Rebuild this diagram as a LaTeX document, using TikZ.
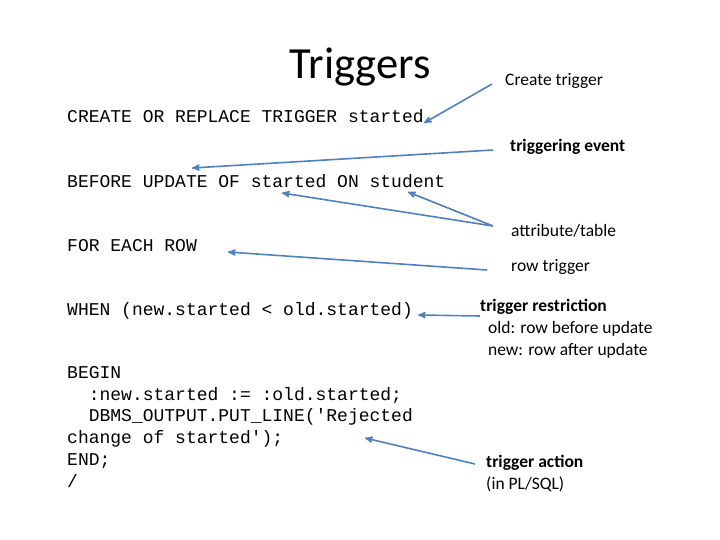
\documentclass[tikz,border=0pt]{standalone}
\usepackage{fontspec}
\setmainfont{Carlito}
\setmonofont{Liberation Mono}
\usetikzlibrary{arrows,positioning}
\definecolor{arrowblue}{RGB}{79,129,189}
\tikzset{
>=stealth', % arrow heads
every node/.style={inner sep=0pt},
code/.style={anchor=west,font=\ttfamily\fontsize{18}{21.8}\selectfont,align=left},
note/.style={anchor=west,font=\fontsize{17.5}{22}\selectfont,align=left},
pointer/.style={->,draw=arrowblue,line width=1.6pt},
}
\begin{document}
\begin{tikzpicture}[x=1pt,y=-1pt]
  \useasboundingbox (0,0) rectangle (720,540);
  \node[font=\fontsize{44.5}{46}\selectfont] (title) at (360,67) {Triggers};

  % the code
  \node[code] (create) at (67,116) {CREATE OR REPLACE TRIGGER started};
  \node[code] (event) at (67,181) {BEFORE UPDATE OF started ON student};
  \node[code] (row) at (67,246) {FOR EACH ROW};
  \node[code] (when) at (67,311) {WHEN (new.started < old.started)};
  \node[code,anchor=north west] (body) at (67,366) {BEGIN\\
  \ \ :new.started := :old.started;\\
  \ \ DBMS\_OUTPUT.PUT\_LINE('Rejected\\
  change of started');\\
  END;\\
  /};

  % the notes
  \node[note] (ncreate) at (505,81) {Create trigger};
  \node[note] (nevent) at (510,147) {\textbf{triggering event}};
  \node[note] (nattr) at (511,231) {attribute/table};
  \node[note] (nrow) at (511,267) {row trigger};
  \node[note,anchor=north west] (nrestr) at (480,299) {\textbf{trigger restriction}\\
  \ \ old: row before update\\
  \ \ new: row after update};
  \node[note,anchor=north west] (naction) at (486,455) {\textbf{trigger action}\\(in PL/SQL)};

  % arrow ends
  \coordinate (a1) at (424,123);
  \coordinate (a2) at (192,168);
  \coordinate (a3) at (282,193);
  \coordinate (a4) at (408,192);
  \coordinate (a5) at (228,252);
  \coordinate (a6) at (418,315);
  \coordinate (a7) at (365,438);

  \draw[pointer] (492,84) -- (a1);
  \draw[pointer] (493,150) -- (a2);
  \draw[pointer] (493,226) -- (a3);
  \draw[pointer] (493,226) -- (a4);
  \draw[pointer] (487,270) -- (a5);
  \draw[pointer] (480,316) -- (a6);
  \draw[pointer] (475,464) -- (a7);
\end{tikzpicture}
\end{document}
